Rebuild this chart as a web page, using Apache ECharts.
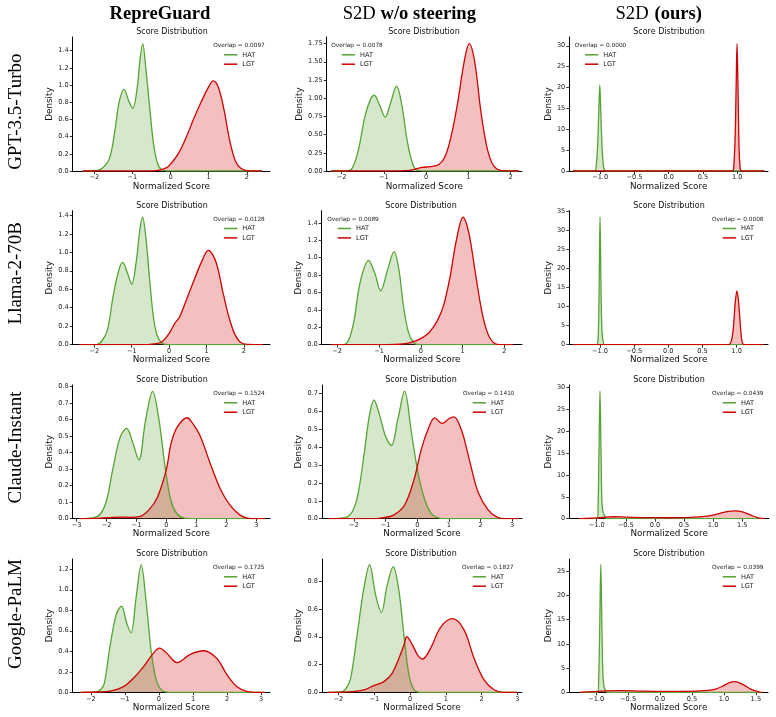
<!DOCTYPE html>
<html>
<head>
<meta charset="utf-8">
<script src="https://cdn.jsdelivr.net/npm/echarts@6/dist/echarts.min.js"></script>
<style>
html, body { margin: 0; padding: 0; background: #fff; }
#chart { width: 776px; height: 717px; }
</style>
</head>
<body>
<div id="chart"></div>
<script>
// column / row headers
const methods = ['RepreGuard', 'S2D w/o steering', 'S2D (ours)'];
const models = ['GPT-3.5-Turbo', 'Llama-2-70B', 'Claude-Instant', 'Google-PaLM'];
const overlaps = [
	['0.0097', '0.0078', '0.0000'],
	['0.0128', '0.0089', '0.0008'],
	['0.1524', '0.1410', '0.0439'],
	['0.1725', '0.1827', '0.0399']
];

// density curves, [normalized score, density]
// GPT-3.5-Turbo
const rgGptHat = [[-2.3,0],[-2.0,0.003],[-1.8,0.03],[-1.6,0.15],[-1.45,0.5],[-1.35,0.8],[-1.22,0.95],[-1.1,0.82],[-0.99,0.73],[-0.88,0.95],[-0.8,1.3],[-0.73,1.48],[-0.65,1.2],[-0.55,0.75],[-0.45,0.33],[-0.35,0.1],[-0.25,0.02],[-0.05,0],[2.4,0]];
const rgGptLgt = [[-2.3,0],[-0.6,0],[-0.3,0.01],[-0.1,0.04],[0.0,0.08],[0.2,0.2],[0.4,0.38],[0.6,0.6],[0.8,0.8],[1.0,0.98],[1.12,1.05],[1.25,0.98],[1.4,0.72],[1.55,0.36],[1.7,0.12],[1.85,0.03],[2.1,0],[2.4,0]];
const woGptHat = [[-2.25,0],[-1.9,0],[-1.75,0.04],[-1.6,0.3],[-1.45,0.75],[-1.32,0.98],[-1.23,1.04],[-1.1,0.9],[-0.97,0.74],[-0.85,0.92],[-0.7,1.165],[-0.58,0.92],[-0.45,0.42],[-0.32,0.1],[-0.2,0.01],[0,0],[2.2,0]];
const woGptLgt = [[-2.25,0],[-0.8,0],[-0.5,0.005],[-0.3,0.02],[-0.1,0.05],[0.1,0.06],[0.3,0.09],[0.45,0.2],[0.6,0.5],[0.75,0.95],[0.9,1.5],[1.02,1.75],[1.15,1.5],[1.3,0.8],[1.45,0.3],[1.6,0.07],[1.8,0.005],[2.2,0]];
const s2dGptHat = [[-1.4,0],[-1.08,0],[-1.06,0.8],[-1.04,5],[-1.02,14],[-1.005,20.6],[-0.99,14],[-0.97,5],[-0.95,1],[-0.93,0.1],[-0.9,0],[1.4,0]];
const s2dGptLgt = [[-1.4,0],[0.93,0],[0.95,1],[0.97,8],[0.985,20],[0.998,30.5],[1.012,20],[1.027,6],[1.045,0.5],[1.07,0],[1.4,0]];
// Llama-2-70B
const rgLlamaHat = [[-2.4,0],[-1.95,0],[-1.8,0.04],[-1.65,0.16],[-1.5,0.52],[-1.35,0.8],[-1.24,0.89],[-1.12,0.78],[-1.0,0.655],[-0.88,0.9],[-0.78,1.25],[-0.71,1.38],[-0.62,1.15],[-0.52,0.7],[-0.42,0.3],[-0.32,0.1],[-0.2,0.02],[-0.05,0],[2.5,0]];
const rgLlamaLgt = [[-2.4,0],[-0.7,0],[-0.4,0.01],[-0.2,0.03],[0.0,0.12],[0.15,0.23],[0.28,0.3],[0.45,0.47],[0.65,0.68],[0.85,0.88],[1.05,1.02],[1.25,0.9],[1.45,0.55],[1.6,0.3],[1.75,0.12],[1.9,0.03],[2.1,0.003],[2.5,0]];
const woLlamaHat = [[-2.15,0],[-1.85,0],[-1.72,0.06],[-1.6,0.27],[-1.45,0.72],[-1.25,0.97],[-1.1,0.82],[-0.96,0.62],[-0.8,0.85],[-0.64,1.07],[-0.52,0.85],[-0.42,0.46],[-0.3,0.15],[-0.18,0.03],[-0.05,0],[2.2,0]];
const woLlamaLgt = [[-2.15,0],[-0.8,0],[-0.5,0.005],[-0.25,0.025],[0,0.07],[0.2,0.14],[0.4,0.28],[0.55,0.46],[0.7,0.78],[0.85,1.2],[1.01,1.465],[1.15,1.28],[1.3,0.84],[1.46,0.38],[1.6,0.13],[1.75,0.02],[1.95,0],[2.2,0]];
const s2dLlamaHat = [[-1.4,0],[-1.05,0],[-1.03,1],[-1.015,12],[-1.0,33.6],[-0.985,14],[-0.97,3],[-0.95,0.4],[-0.93,0],[1.4,0]];
const s2dLlamaLgt = [[-1.4,0],[0.88,0],[0.92,0.8],[0.95,4],[0.98,11],[1.005,14.1],[1.03,11],[1.06,4],[1.08,0.8],[1.11,0],[1.4,0]];
// Claude-Instant
const rgClaudeHat = [[-2.9,0],[-2.45,0.005],[-2.2,0.03],[-2.0,0.11],[-1.8,0.29],[-1.55,0.49],[-1.33,0.546],[-1.14,0.47],[-0.92,0.355],[-0.7,0.59],[-0.46,0.77],[-0.25,0.6],[-0.05,0.32],[0.15,0.11],[0.35,0.03],[0.6,0.003],[0.8,0],[3.3,0]];
const rgClaudeLgt = [[-2.9,0],[-2.2,0.003],[-1.8,0.008],[-1.5,0.01],[-1.2,0.008],[-0.9,0.012],[-0.6,0.05],[-0.3,0.13],[0.0,0.3],[0.15,0.45],[0.35,0.55],[0.69,0.61],[0.9,0.57],[1.13,0.5],[1.47,0.33],[1.8,0.18],[2.13,0.08],[2.47,0.02],[2.75,0.002],[3.0,0],[3.3,0]];
const woClaudeHat = [[-2.8,0],[-2.25,0.008],[-2.05,0.04],[-1.88,0.13],[-1.67,0.375],[-1.51,0.58],[-1.37,0.665],[-1.19,0.58],[-1.0,0.46],[-0.82,0.41],[-0.61,0.56],[-0.4,0.715],[-0.19,0.49],[0.02,0.26],[0.23,0.11],[0.44,0.03],[0.7,0.003],[0.9,0],[3.2,0]];
const woClaudeLgt = [[-2.8,0],[-1.5,0],[-1.1,0.005],[-0.75,0.02],[-0.4,0.077],[-0.1,0.22],[0.13,0.39],[0.34,0.5],[0.55,0.565],[0.79,0.534],[1.0,0.56],[1.16,0.57],[1.39,0.5],[1.55,0.4],[1.66,0.32],[1.92,0.15],[2.24,0.05],[2.55,0.006],[2.8,0],[3.2,0]];
const s2dClaudeHat = [[-1.3,0],[-0.99,0],[-0.975,3],[-0.96,15],[-0.943,29.2],[-0.925,15],[-0.91,4],[-0.89,1.5],[-0.86,0.6],[-0.83,0],[1.85,0]];
const s2dClaudeLgt = [[-1.3,0],[-1.1,0.1],[-0.9,0.3],[-0.7,0.45],[-0.5,0.35],[-0.2,0.25],[0.2,0.22],[0.6,0.3],[0.9,0.6],[1.05,1.0],[1.2,1.5],[1.38,1.8],[1.52,1.5],[1.65,0.8],[1.78,0.2],[1.88,0]];
// Google-PaLM
const rgPalmHat = [[-2.3,0],[-1.85,0.005],[-1.7,0.03],[-1.6,0.09],[-1.43,0.46],[-1.25,0.76],[-1.1,0.84],[-0.95,0.68],[-0.82,0.58],[-0.67,0.92],[-0.52,1.245],[-0.38,0.9],[-0.22,0.38],[-0.06,0.1],[0.1,0.015],[0.3,0],[3.1,0]];
const rgPalmLgt = [[-2.3,0],[-1.8,0.003],[-1.43,0.012],[-1.04,0.055],[-0.74,0.14],[-0.45,0.25],[-0.2,0.365],[0.02,0.43],[0.23,0.38],[0.53,0.29],[0.92,0.37],[1.31,0.405],[1.7,0.33],[2.0,0.17],[2.29,0.055],[2.58,0.01],[2.9,0],[3.1,0]];
const woPalmHat = [[-2.3,0],[-1.9,0.005],[-1.78,0.03],[-1.66,0.1],[-1.48,0.41],[-1.29,0.75],[-1.13,0.92],[-0.96,0.7],[-0.8,0.575],[-0.64,0.77],[-0.47,0.905],[-0.31,0.73],[-0.17,0.41],[-0.03,0.125],[0.11,0.02],[0.3,0],[3.0,0]];
const woPalmLgt = [[-2.3,0],[-1.6,0.005],[-1.29,0.017],[-1.0,0.05],[-0.73,0.077],[-0.5,0.137],[-0.31,0.245],[-0.17,0.34],[-0.09,0.4],[0.07,0.34],[0.21,0.27],[0.35,0.24],[0.58,0.32],[0.86,0.47],[1.19,0.53],[1.51,0.45],[1.79,0.245],[2.07,0.09],[2.36,0.017],[2.65,0],[3.0,0]];
const s2dPalmHat = [[-1.25,0],[-0.975,0],[-0.96,3],[-0.943,14],[-0.927,26.4],[-0.91,14],[-0.895,4],[-0.875,1],[-0.85,0.4],[-0.83,0],[1.55,0]];
const s2dPalmLgt = [[-1.25,0],[-1.05,0.15],[-0.85,0.3],[-0.6,0.35],[-0.3,0.25],[0.0,0.18],[0.4,0.2],[0.7,0.35],[0.85,0.6],[0.97,1.2],[1.07,1.9],[1.17,2.2],[1.3,1.6],[1.43,0.6],[1.56,0.05],[1.6,0]];

// tick values
const xTicks = [
	[[-2,-1,0,1,2], [-2,-1,0,1,2], [-1,-0.5,0,0.5,1]],
	[[-2,-1,0,1,2], [-2,-1,0,1,2], [-1,-0.5,0,0.5,1]],
	[[-3,-2,-1,0,1,2,3], [-2,-1,0,1,2,3], [-1,-0.5,0,0.5,1,1.5]],
	[[-2,-1,0,1,2,3], [-2,-1,0,1,2,3], [-1,-0.5,0,0.5,1,1.5]]
];
const yTicks = [
	[[0,0.2,0.4,0.6,0.8,1.0,1.2,1.4], [0,0.25,0.5,0.75,1.0,1.25,1.5,1.75], [0,5,10,15,20,25,30]],
	[[0,0.2,0.4,0.6,0.8,1.0,1.2,1.4], [0,0.2,0.4,0.6,0.8,1.0,1.2,1.4], [0,5,10,15,20,25,30,35]],
	[[0,0.1,0.2,0.3,0.4,0.5,0.6,0.7,0.8], [0,0.1,0.2,0.3,0.4,0.5,0.6,0.7], [0,5,10,15,20,25,30]],
	[[0,0.2,0.4,0.6,0.8,1.0,1.2], [0,0.2,0.4,0.6,0.8], [0,5,10,15,20,25]]
];

const curves = [
	[[rgGptHat, rgGptLgt], [woGptHat, woGptLgt], [s2dGptHat, s2dGptLgt]],
	[[rgLlamaHat, rgLlamaLgt], [woLlamaHat, woLlamaLgt], [s2dLlamaHat, s2dLlamaLgt]],
	[[rgClaudeHat, rgClaudeLgt], [woClaudeHat, woClaudeLgt], [s2dClaudeHat, s2dClaudeLgt]],
	[[rgPalmHat, rgPalmLgt], [woPalmHat, woPalmLgt], [s2dPalmHat, s2dPalmLgt]]
];

// panel boxes (px) and axis ranges
const panels = [
	{l:72.7, t:37, w:197.3, h:134, x0:-2.567, x1:2.61, y1:1.56, xd:0, yd:1, yg:15.3, tx:172, ox:239, lx:224},
	{l:326.7, t:37, w:195.3, h:134, x0:-2.355, x1:2.27, y1:1.84, xd:0, yd:2, yg:20, tx:424, ox:357, lx:341.7},
	{l:569.3, t:37, w:198.7, h:134, x0:-1.45, x1:1.45, y1:32.1, xd:1, yd:0, yg:13.2, tx:669, ox:600.5, lx:585},
	{l:72.7, t:210.7, w:197.3, h:134, x0:-2.58, x1:2.7, y1:1.45, xd:0, yd:1, yg:15.3, tx:172, ox:239, lx:224},
	{l:321.7, t:210.7, w:200.3, h:134, x0:-2.37, x1:2.42, y1:1.54, xd:0, yd:1, yg:15.3, tx:421, ox:353, lx:337.7},
	{l:569.3, t:210.7, w:198.7, h:134, x0:-1.45, x1:1.46, y1:35.2, xd:1, yd:0, yg:13.2, tx:669, ox:737.7, lx:722.7},
	{l:72.7, t:385, w:197.3, h:133.7, x0:-3.13, x1:3.46, y1:0.808, xd:0, yd:1, yg:15.3, tx:172, ox:239, lx:224},
	{l:322, t:385, w:200, h:133.7, x0:-3.01, x1:3.31, y1:0.749, xd:0, yd:1, yg:15.3, tx:421, ox:488.7, lx:472.7},
	{l:569.3, t:385, w:199.7, h:133.7, x0:-1.47, x1:1.96, y1:30.6, xd:1, yd:0, yg:13.2, tx:669, ox:737.7, lx:722.7},
	{l:72.7, t:559, w:197.3, h:133.3, x0:-2.53, x1:3.26, y1:1.30, xd:0, yd:1, yg:15.3, tx:172, ox:238.7, lx:224},
	{l:322, t:559, w:200, h:133.3, x0:-2.46, x1:3.13, y1:0.96, xd:0, yd:1, yg:15.3, tx:421, ox:487.7, lx:472.7},
	{l:569.3, t:559, w:198.7, h:133.3, x0:-1.42, x1:1.69, y1:27.5, xd:1, yd:0, yg:13.2, tx:669, ox:737.7, lx:722.7}
];

const HAT_LINE = '#57a333', HAT_FILL = 'rgba(87,163,51,0.25)';
const LGT_LINE = '#d00000', LGT_FILL = 'rgba(208,0,0,0.25)';
const SANS = 'DejaVu Sans', SERIF = 'Liberation Serif';

const fmt = d => v => (v < -1e-9 ? '\u2212' : '') + Math.abs(v).toFixed(d);

const grid = [], xAxis = [], yAxis = [], series = [], legend = [], graphic = [];

panels.forEach((p, i) => {
	const r = Math.floor(i / 3), c = i % 3;
	grid.push({left: p.l, top: p.t, width: p.w, height: p.h, outerBoundsMode: 'none'});
	xAxis.push({
		gridIndex: i, type: 'value', min: p.x0, max: p.x1,
		name: 'Normalized Score', nameLocation: 'middle', nameGap: 10,
		nameTextStyle: {fontFamily: SANS, fontSize: 8.8, color: '#111'},
		axisLine: {show: true, onZero: false, lineStyle: {color: '#000', width: 1}},
		axisTick: {show: true, inside: false, length: 3, customValues: xTicks[r][c], lineStyle: {color: '#000', width: 0.8}},
		axisLabel: {customValues: xTicks[r][c], formatter: fmt(p.xd), fontFamily: SANS, fontSize: 6.6, color: '#222', margin: 3},
		splitLine: {show: false}
	});
	yAxis.push({
		gridIndex: i, type: 'value', min: 0, max: p.y1,
		name: 'Density', nameLocation: 'middle', nameGap: p.yg,
		nameTextStyle: {fontFamily: SANS, fontSize: 8.8, color: '#111'},
		axisLine: {show: true, onZero: false, lineStyle: {color: '#000', width: 1}},
		axisTick: {show: true, inside: false, length: 3, customValues: yTicks[r][c], lineStyle: {color: '#000', width: 0.8}},
		axisLabel: {customValues: yTicks[r][c], formatter: fmt(p.yd), fontFamily: SANS, fontSize: 6.6, color: '#222', margin: 4},
		splitLine: {show: false}
	});
	series.push({
		type: 'line', name: 'HAT', xAxisIndex: i, yAxisIndex: i, data: curves[r][c][0],
		smooth: 0.35, symbol: 'none', silent: true,
		lineStyle: {color: HAT_LINE, width: 1.3}, itemStyle: {color: HAT_LINE},
		areaStyle: {color: HAT_FILL, opacity: 1}
	});
	series.push({
		type: 'line', name: 'LGT', xAxisIndex: i, yAxisIndex: i, data: curves[r][c][1],
		smooth: 0.35, symbol: 'none', silent: true,
		lineStyle: {color: LGT_LINE, width: 1.3}, itemStyle: {color: LGT_LINE},
		areaStyle: {color: LGT_FILL, opacity: 1}
	});
	// legend: HAT / LGT entries under the overlap text
	const oy = p.t + 8.5;
	legend.push({
		left: p.lx, top: oy + 4.6, orient: 'vertical', padding: 0, itemGap: 0,
		icon: 'rect', itemWidth: 13.3, itemHeight: 1.5, selectedMode: false,
		itemStyle: {borderWidth: 0},
		textStyle: {fontFamily: SANS, fontSize: 6.6, lineHeight: 9.4, color: '#222', padding: 0},
		data: ['HAT', 'LGT']
	});
	graphic.push({
		type: 'text', x: p.ox, y: oy, silent: true,
		style: {text: 'Overlap = ' + overlaps[r][c], fontFamily: SANS, fontSize: 5.8, fill: '#222', textAlign: 'center', textVerticalAlign: 'middle'}
	});
	graphic.push({
		type: 'text', x: p.tx, y: p.t - 5, silent: true,
		style: {text: 'Score Distribution', fontFamily: SANS, fontSize: 8, fill: '#111', textAlign: 'center', textVerticalAlign: 'middle'}
	});
});

// column headers: method name in regular face, the rest in bold
const headText = (text, x, align, weight) => ({
	type: 'text', x: x, y: 14, silent: true,
	style: {text: text, fontFamily: SERIF, fontSize: 18.6, fontWeight: weight, fill: '#000', textAlign: align, textVerticalAlign: 'middle'}
});
graphic.push(headText(methods[0], 160, 'center', 'bold'));
graphic.push(headText(methods[1].split(' ')[0], 342.7, 'left', 'normal'));
graphic.push(headText(methods[1].split(' ').slice(1).join(' '), 476, 'right', 'bold'));
graphic.push(headText(methods[2].split(' ')[0], 615.5, 'left', 'normal'));
graphic.push(headText(methods[2].split(' ').slice(1).join(' '), 702, 'right', 'bold'));

// row labels
const rowY = [111.7, 273.3, 447.5, 614];
models.forEach((m, k) => {
	graphic.push({
		type: 'text', x: 16.5, y: rowY[k], rotation: Math.PI / 2, silent: true,
		style: {text: m, fontFamily: SERIF, fontSize: 19, fill: '#000', textAlign: 'center', textVerticalAlign: 'middle'}
	});
});

const chart = echarts.init(document.getElementById('chart'), null, {renderer: 'canvas'});
chart.setOption({
	backgroundColor: '#fff',
	animation: false,
	grid: grid,
	xAxis: xAxis,
	yAxis: yAxis,
	legend: legend,
	series: series,
	graphic: graphic
});
</script>
</body>
</html>
